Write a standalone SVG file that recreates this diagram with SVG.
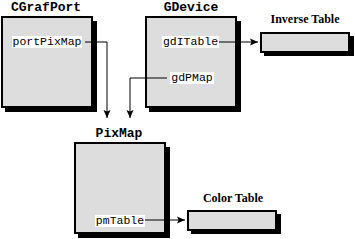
<svg xmlns="http://www.w3.org/2000/svg" width="355" height="239" viewBox="0 0 355 239">
<defs>
<style>
.shadow{fill:#000}
.box{fill:#dddddd;stroke:#000;stroke-width:2}
.title{font-family:"Liberation Mono",monospace;font-weight:bold;font-size:13px;text-anchor:middle;fill:#000}
.stitle{font-family:"Liberation Serif",serif;font-weight:bold;font-size:12px;text-anchor:middle;fill:#000}
.lbl{font-family:"Liberation Mono",monospace;font-size:11.5px;text-anchor:middle;fill:#000}
.lblbg{fill:#fff}
.conn{fill:none;stroke:#000;stroke-width:1}
</style>
<marker id="arr" markerUnits="userSpaceOnUse" markerWidth="9" markerHeight="8" refX="8" refY="4" orient="auto">
<path d="M0,0.5 L8,4 L0,7.5 L1.5,4 z" fill="#000"/>
</marker>
</defs>
<rect width="355" height="239" fill="#fff"/>
<g id="cgrafport">
<text class="title" x="46" y="11">CGrafPort</text>
<rect class="shadow" x="5" y="21" width="92" height="91"/>
<rect class="box" x="2" y="17" width="90" height="90"/>
<rect class="lblbg" x="12" y="36" width="70" height="12"/>
<text class="lbl" x="47" y="45">portPixMap</text>
</g>
<g id="gdevice">
<text class="title" x="191" y="11">GDevice</text>
<rect class="shadow" x="149" y="21" width="92" height="91"/>
<rect class="box" x="146" y="17" width="90" height="90"/>
<rect class="lblbg" x="162" y="36" width="57" height="12"/>
<text class="lbl" x="190.5" y="45">gdITable</text>
<rect class="lblbg" x="170" y="72" width="44" height="12"/>
<text class="lbl" x="192" y="81">gdPMap</text>
</g>
<g id="inversetable">
<text class="stitle" x="305" y="23">Inverse Table</text>
<rect class="shadow" x="264" y="36" width="90" height="20"/>
<rect class="box" x="261" y="33" width="88" height="19"/>
</g>
<g id="pixmap">
<text class="title" x="119" y="137">PixMap</text>
<rect class="shadow" x="78" y="147" width="92" height="91"/>
<rect class="box" x="75" y="143" width="90" height="90"/>
<rect class="lblbg" x="95" y="215" width="50" height="12"/>
<text class="lbl" x="120" y="224">pmTable</text>
</g>
<g id="colortable">
<text class="stitle" x="233" y="202">Color Table</text>
<rect class="shadow" x="191" y="214" width="90" height="20"/>
<rect class="box" x="188" y="211" width="88" height="19"/>
</g>
<g id="connectors">
<path class="conn" d="M85 42 H107 V118" marker-end="url(#arr)"/>
<path class="conn" d="M167 78 H130 V118" marker-end="url(#arr)"/>
<path class="conn" d="M219 42 H258" marker-end="url(#arr)"/>
<path class="conn" d="M145 220 H185" marker-end="url(#arr)"/>
</g>
</svg>
